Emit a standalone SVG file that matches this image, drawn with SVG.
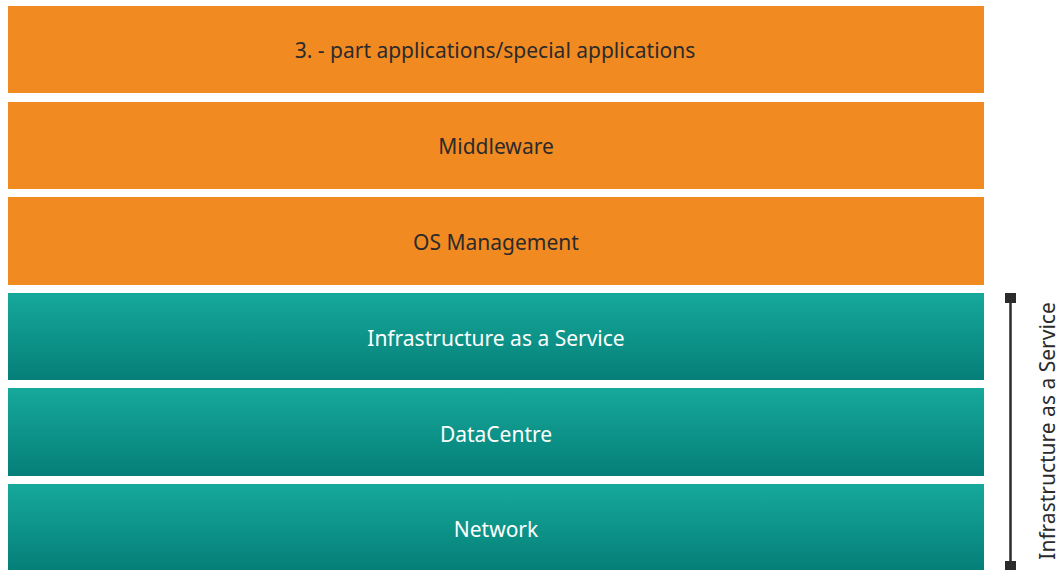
<svg xmlns="http://www.w3.org/2000/svg" width="1062" height="570" viewBox="0 0 1062 570">
<defs>
<linearGradient id="teal" x1="0" y1="0" x2="0" y2="1">
<stop offset="0" stop-color="#16a99b"/>
<stop offset="1" stop-color="#057f78"/>
</linearGradient>
<style>
.o{fill:#f28a22}
.t{fill:url(#teal)}
.lbl{font-family:"Noto Sans","DejaVu Sans",sans-serif;font-size:21px;text-anchor:middle}
.dk{fill:#2b2b2b}
.wt{fill:#ffffff}
</style>
</defs>
<rect width="1062" height="570" fill="#ffffff"/>
<g id="layer-apps"><rect class="o" x="8" y="6" width="976" height="87"/><text class="lbl dk" x="495" y="58">3. - part applications/special applications</text></g>
<g id="layer-middleware"><rect class="o" x="8" y="102" width="976" height="87"/><text class="lbl dk" x="496" y="154">Middleware</text></g>
<g id="layer-os"><rect class="o" x="8" y="197" width="976" height="88"/><text class="lbl dk" x="496" y="250">OS Management</text></g>
<g id="layer-iaas"><rect class="t" x="8" y="293" width="976" height="87"/><text class="lbl wt" x="496" y="346">Infrastructure as a Service</text></g>
<g id="layer-dc"><rect class="t" x="8" y="388" width="976" height="88"/><text class="lbl wt" x="496" y="442">DataCentre</text></g>
<g id="layer-net"><rect class="t" x="8" y="484" width="976" height="86"/><text class="lbl wt" x="496" y="537">Network</text></g>
<g id="connectors">
<line x1="1010.5" y1="298" x2="1010.5" y2="565" stroke="#2b2b2b" stroke-width="2.5"/>
<rect x="1005" y="293" width="11" height="10" fill="#2b2b2b"/>
<rect x="1005" y="561" width="11" height="9" fill="#2b2b2b"/>
</g>
<g id="bracket-label"><text class="lbl dk" transform="translate(1055,431) rotate(-90)" x="0" y="0">Infrastructure as a Service</text></g>
</svg>
